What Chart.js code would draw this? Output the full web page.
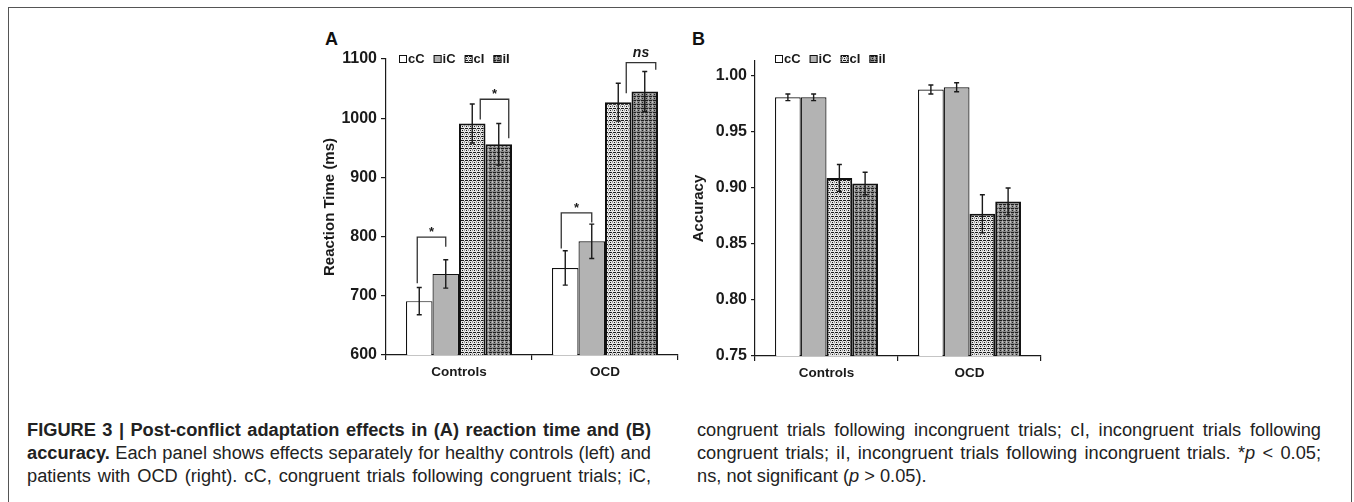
<!DOCTYPE html>
<html>
<head>
<meta charset="utf-8">
<script src="https://cdn.jsdelivr.net/npm/chart.js@4.4.0/dist/chart.umd.min.js"></script>
<style>
    html, body { margin: 0; padding: 0; background: #fff; }
    body { width: 1354px; height: 502px; position: relative; overflow: hidden;
           font-family: 'Liberation Sans', Arial, Helvetica, sans-serif; color: #111; }
    .frame { position: absolute; left: 8px; top: 7px; width: 1344px; height: 520px;
             border: 1px solid #555; border-bottom: none; box-sizing: border-box; }
    .panel { position: absolute; top: 0; }
    .letter { position: absolute; font-weight: bold; font-size: 18px; line-height: 18px; }
    .caption { position: absolute; top: 418px; width: 624px; font-size: 14px; line-height: 23px; color: #222; }
    .caption div { white-space: nowrap; text-align: justify; text-align-last: justify; }
    .caption div.last { text-align-last: left; }
</style>
</head>
<body>
<div class="frame"></div>

<div class="letter" style="left:325px; top:30px;">A</div>
<div class="letter" style="left:692px; top:30px;">B</div>

<div class="panel" style="left:290px;"><canvas id="rtChart" width="400" height="400"></canvas></div>
<div class="panel" style="left:680px;"><canvas id="accChart" width="380" height="400"></canvas></div>

<div class="caption" style="left:27px;">
    <div><b>FIGURE 3 | Post-conflict adaptation effects in (A) reaction time and (B)</b></div>
    <div><b>accuracy.</b> Each panel shows effects separately for healthy controls (left) and</div>
    <div>patients with OCD (right). cC, congruent trials following congruent trials; iC,</div>
</div>
<div class="caption" style="left:697px;">
    <div>congruent trials following incongruent trials; cI, incongruent trials following</div>
    <div>congruent trials; iI, incongruent trials following incongruent trials. *<i>p</i> &lt; 0.05;</div>
    <div class="last">ns, not significant (<i>p</i> &gt; 0.05).</div>
</div>

<script>
// === Data ===

const groups = ['Controls', 'OCD'];
const conditions = ['cC', 'iC', 'cI', 'iI'];

// Reaction time (ms), mean and error
const rtCC = [691, 747];
const rtIC = [737, 792];
const rtCI = [991, 1027];
const rtII = [956, 1045];
const rtErrCC = [23, 29];
const rtErrIC = [24, 29];
const rtErrCI = [33, 32];
const rtErrII = [35, 34];
const rtTicks = [600, 700, 800, 900, 1000, 1100];

// Accuracy, mean and error
const accCC = [0.981, 0.988];
const accIC = [0.981, 0.990];
const accCI = [0.909, 0.877];
const accII = [0.904, 0.888];
const accErrCC = [0.003, 0.004];
const accErrIC = [0.003, 0.004];
const accErrCI = [0.012, 0.017];
const accErrII = [0.010, 0.012];
const accTicks = [0.75, 0.80, 0.85, 0.90, 0.95, 1.00];

// Significance brackets on panel A (group, bar from/to, levels in ms)
const rtBrackets = [
    { group: 0, from: 0, to: 1, top: 799, leftEnd: 721, rightEnd: 783, label: '*', dx: [-2, 0] },
    { group: 0, from: 2, to: 3, top: 1032, leftEnd: 998, rightEnd: 966, label: '*', dx: [8, 10] },
    { group: 1, from: 0, to: 1, top: 840, leftEnd: 780, rightEnd: 824, label: '*', dx: [-4, 0] },
    { group: 1, from: 2, to: 3, top: 1094, leftEnd: 1042, rightEnd: 1082, label: 'ns', dx: [8, 11] }
];

// === Styles ===

const FONT = "'Liberation Sans', Arial, Helvetica, sans-serif";
const INK = '#1a1a1a';

function makePattern(bg, dark, light) {
    const c = document.createElement('canvas');
    c.width = 4;
    c.height = 4;
    const g = c.getContext('2d');
    g.fillStyle = bg;
    g.fillRect(0, 0, 4, 4);
    g.fillStyle = dark;
    g.fillRect(0, 0, 2, 1);
    g.fillRect(3, 0, 1, 1);
    g.fillRect(0, 2, 1, 1);
    g.fillStyle = light;
    g.fillRect(2, 2, 1, 1);
    g.fillRect(2, 1, 1, 1);
    return c.getContext('2d').createPattern(c, 'repeat');
}

const fills = [
    '#ffffff',
    '#b3b3b3',
    makePattern('#e6e6e6', '#1c1c1c', '#9a9a9a'),
    makePattern('#8a8a8a', '#1e1e1e', '#bdbdbd')
];
const borders = [1.2, 1.2, 2, 2];

function buildDatasets(series, errors) {
    return conditions.map((name, i) => ({
        label: name,
        data: series[i],
        errors: errors[i],
        backgroundColor: fills[i],
        borderColor: '#111',
        borderWidth: borders[i],
        borderSkipped: 'bottom',
        barPercentage: 1.0
    }));
}

// === Plugins ===

const errorBars = {
    id: 'errorBars',
    afterDatasetsDraw(chart) {
        const ctx = chart.ctx;
        const y = chart.scales.y;
        ctx.save();
        ctx.strokeStyle = INK;
        ctx.lineWidth = 1.4;
        chart.data.datasets.forEach((ds, i) => {
            chart.getDatasetMeta(i).data.forEach((bar, j) => {
                const v = ds.data[j];
                const e = ds.errors[j];
                const top = y.getPixelForValue(v + e);
                const bot = y.getPixelForValue(v - e);
                ctx.beginPath();
                ctx.moveTo(bar.x, top);
                ctx.lineTo(bar.x, bot);
                ctx.moveTo(bar.x - 2.5, top);
                ctx.lineTo(bar.x + 2.5, top);
                ctx.moveTo(bar.x - 2.5, bot);
                ctx.lineTo(bar.x + 2.5, bot);
                ctx.stroke();
            });
        });
        ctx.restore();
    }
};

const brackets = {
    id: 'brackets',
    afterDatasetsDraw(chart, args, opts) {
        if (!opts.items) return;
        const ctx = chart.ctx;
        const y = chart.scales.y;
        ctx.save();
        ctx.strokeStyle = '#333';
        ctx.lineWidth = 1.3;
        ctx.fillStyle = INK;
        ctx.textAlign = 'center';
        ctx.textBaseline = 'alphabetic';
        opts.items.forEach(b => {
            const x1 = chart.getDatasetMeta(b.from).data[b.group].x + b.dx[0];
            const x2 = chart.getDatasetMeta(b.to).data[b.group].x + b.dx[1];
            const yt = y.getPixelForValue(b.top);
            ctx.beginPath();
            ctx.moveTo(x1, y.getPixelForValue(b.leftEnd));
            ctx.lineTo(x1, yt);
            ctx.lineTo(x2, yt);
            ctx.lineTo(x2, y.getPixelForValue(b.rightEnd));
            ctx.stroke();
            if (b.label === 'ns') {
                ctx.font = `italic bold 14px ${FONT}`;
                ctx.fillText(b.label, (x1 + x2) / 2, yt - 6);
            } else {
                ctx.font = `bold 13px ${FONT}`;
                ctx.fillText(b.label, (x1 + x2) / 2, yt - 1);
            }
        });
        ctx.restore();
    }
};

const boxLegend = {
    id: 'boxLegend',
    afterDraw(chart, args, opts) {
        const ctx = chart.ctx;
        const area = chart.chartArea;
        let x = area.left + opts.dx;
        const yc = area.top + opts.dy;
        ctx.save();
        ctx.font = `bold 13px ${FONT}`;
        ctx.textBaseline = 'middle';
        chart.data.datasets.forEach(ds => {
            ctx.fillStyle = ds.backgroundColor;
            ctx.fillRect(x, yc - 4, 8, 8);
            ctx.strokeStyle = '#111';
            ctx.lineWidth = 1;
            ctx.strokeRect(x + 0.5, yc - 3.5, 7, 7);
            ctx.fillStyle = INK;
            ctx.fillText(ds.label, x + 9, yc + 0.5);
            x += 9 + ctx.measureText(ds.label).width + 9;
        });
        ctx.restore();
    }
};

// === Charts ===

function makeChart(canvasId, cfg) {
    const ctx = document.getElementById(canvasId).getContext('2d');
    return new Chart(ctx, {
        type: 'bar',
        data: {
            labels: groups,
            datasets: buildDatasets(cfg.series, cfg.errors)
        },
        options: {
            responsive: false,
            animation: false,
            events: [],
            layout: { padding: cfg.padding },
            datasets: { bar: { categoryPercentage: cfg.catPct } },
            plugins: {
                legend: { display: false },
                tooltip: { enabled: false },
                brackets: { items: cfg.brackets },
                boxLegend: cfg.legend
            },
            scales: {
                x: {
                    grid: {
                        display: true,
                        drawOnChartArea: false,
                        drawTicks: true,
                        tickLength: 5,
                        color: INK,
                        lineWidth: 1.2
                    },
                    border: { display: true, color: INK, width: 1.2 },
                    ticks: {
                        color: INK,
                        padding: 4,
                        font: { family: FONT, size: 13.5, weight: 'bold' }
                    },
                    afterFit: (axis) => { axis.height = 30; }
                },
                y: {
                    min: cfg.min,
                    max: cfg.max,
                    grid: {
                        display: true,
                        drawOnChartArea: false,
                        drawTicks: true,
                        tickLength: cfg.tickLength,
                        color: INK,
                        lineWidth: 1.2
                    },
                    border: { display: true, color: INK, width: 1.2 },
                    ticks: {
                        color: INK,
                        padding: 4,
                        font: { family: FONT, size: 16, weight: 'bold' },
                        callback: cfg.format
                    },
                    afterBuildTicks: (axis) => {
                        axis.ticks = cfg.ticks.map(v => ({ value: v }));
                    },
                    title: {
                        display: true,
                        text: cfg.title,
                        color: INK,
                        font: { family: FONT, size: 15, weight: 'bold' },
                        padding: { top: cfg.titlePad, bottom: 0 }
                    },
                    afterFit: (axis) => { axis.width = cfg.axisWidth; }
                }
            }
        },
        plugins: [errorBars, brackets, boxLegend]
    });
}

makeChart('rtChart', {
    series: [rtCC, rtIC, rtCI, rtII],
    errors: [rtErrCC, rtErrIC, rtErrCI, rtErrII],
    ticks: rtTicks,
    min: 600,
    max: 1100,
    format: (v) => String(v),
    title: 'Reaction Time (ms)',
    titlePad: 31,
    axisWidth: 96,
    tickLength: 5,
    catPct: 0.726,
    padding: { left: 0, right: 12, top: 59, bottom: 15 },
    brackets: rtBrackets,
    legend: { dx: 13, dy: 0 }
});

makeChart('accChart', {
    series: [accCC, accIC, accCI, accII],
    errors: [accErrCC, accErrIC, accErrCI, accErrII],
    ticks: accTicks,
    min: 0.75,
    max: 1.0134,
    format: (v) => v.toFixed(2),
    title: 'Accuracy',
    titlePad: 10,
    axisWidth: 75,
    tickLength: 4,
    catPct: 0.72,
    padding: { left: 0, right: 19, top: 61, bottom: 14 },
    brackets: null,
    legend: { dx: 20, dy: -2 }
});

// Size the caption so its justified lines fill the column width
function fitCaption() {
    const lines = Array.from(document.querySelectorAll('.caption div:not(.last)'));
    let size = 20;
    lines.forEach(line => {
        const probe = document.createElement('span');
        probe.innerHTML = line.innerHTML;
        probe.style.cssText = 'position:absolute;visibility:hidden;white-space:nowrap;font-size:14px;';
        document.body.appendChild(probe);
        size = Math.min(size, 14 * 620 / probe.getBoundingClientRect().width);
        probe.remove();
    });
    document.querySelectorAll('.caption').forEach(c => { c.style.fontSize = size + 'px'; });
}
fitCaption();
</script>
</body>
</html>
